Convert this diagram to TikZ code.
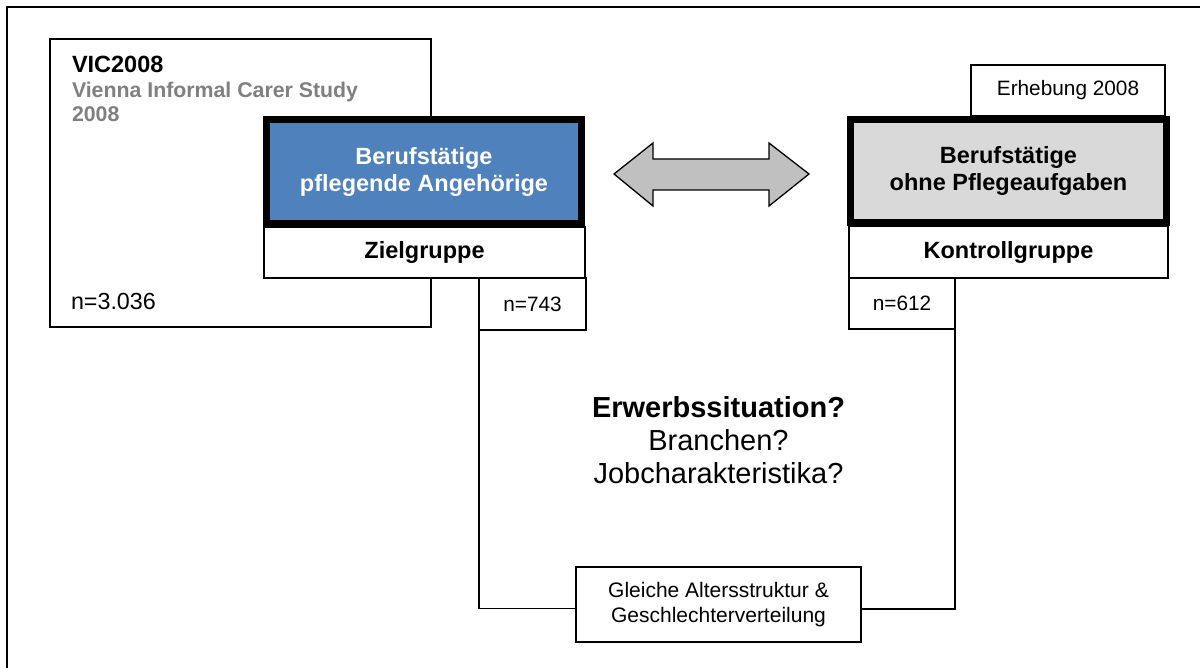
\documentclass[tikz,border=0pt]{standalone}
\usepackage{fontspec}
\setmainfont{Liberation Sans}
\definecolor{blueF}{HTML}{4F81BD}
\definecolor{greyF}{HTML}{D9D9D9}
\definecolor{arrowF}{HTML}{C0C0C0}
\definecolor{vicgrey}{HTML}{808080}
\begin{document}
\begin{tikzpicture}[x=1pt,y=-1pt,
  thinbox/.style={draw=black, line width=1.4pt, fill=white, inner sep=0pt, outer sep=0pt, align=center},
  thickbox/.style={draw=black, line width=7.3pt, inner sep=0pt, outer sep=0pt, align=center},
  headfont/.style={font=\fontsize{23.5}{27}\selectfont\bfseries},
  smallfont/.style={font=\fontsize{20.8}{25}\selectfont},
  plain/.style={inner sep=0pt, outer sep=0pt},
  conn/.style={draw=black, line width=1.4pt}]
\useasboundingbox (0,0) rectangle (1200,668);
\fill[white] (0,0) rectangle (1200,668);
% outer frame (top and left edges visible)
\draw[line width=2pt] (7,668) -- (7,7) -- (1200,7);

% VIC box
\node[thinbox, minimum width=381pt, minimum height=288pt] (vic) at (240.5,183) {};
\node[plain, anchor=base west, font=\fontsize{23.5}{27}\selectfont\bfseries] (vict) at (72,72.5) {VIC2008};
\node[plain, anchor=base west, text=vicgrey, font=\fontsize{21.3}{24}\selectfont\bfseries] (vics) at (72,98) {Vienna Informal Carer Study};
\node[plain, anchor=base west, text=vicgrey, font=\fontsize{21.3}{24}\selectfont\bfseries] (vicy) at (72,122) {2008};
\node[plain, anchor=base west, font=\fontsize{23.3}{27}\selectfont] (vicn) at (71,310) {n=3.036};

% target group
\node[thickbox, fill=blueF, text=white, headfont, minimum width=314.7pt, minimum height=103.7pt] (blue) at (424,171.5) {Berufstätige\\pflegende Angehörige};
\node[thinbox, headfont, minimum width=321pt, minimum height=51pt] (ziel) at (424.5,252.5) {Zielgruppe};
\node[thinbox, smallfont, minimum width=107pt, minimum height=52pt] (n743) at (532.5,304) {n=743};

% control group
\node[thinbox, smallfont, minimum width=194pt, minimum height=51pt] (erh) at (1068,90.5) {Erhebung 2008};
\node[thickbox, fill=greyF, headfont, minimum width=315.7pt, minimum height=102.7pt] (grey) at (1008.5,171) {Berufstätige\\ohne Pflegeaufgaben};
\node[thinbox, headfont, minimum width=319pt, minimum height=52pt] (kontr) at (1008.5,252) {Kontrollgruppe};
\node[thinbox, smallfont, minimum width=106pt, minimum height=51pt] (n612) at (902,303.5) {n=612};

% double arrow
\draw[line width=1.3pt, fill=arrowF] (614,174) -- (653,143) -- (653,159) -- (769,159) -- (769,143) -- (809,174) -- (769,206) -- (769,190) -- (653,190) -- (653,206) -- cycle;

% questions
\node[plain, anchor=north, align=center, font=\fontsize{29}{33}\selectfont] (quest) at (718.5,396) {\textbf{Erwerbssituation?}\\Branchen?\\Jobcharakteristika?};

% matching box
\node[thinbox, font=\fontsize{21}{25}\selectfont, minimum width=285pt, minimum height=75pt] (glei) at (718.5,604.5) {Gleiche Altersstruktur \&\\Geschlechterverteilung};

% connectors
\draw[conn] (n743.south west) |- ([yshift=-4pt]glei.west);
\draw[conn] (n612.south east) |- ([yshift=-4.5pt]glei.east);
\end{tikzpicture}
\end{document}
